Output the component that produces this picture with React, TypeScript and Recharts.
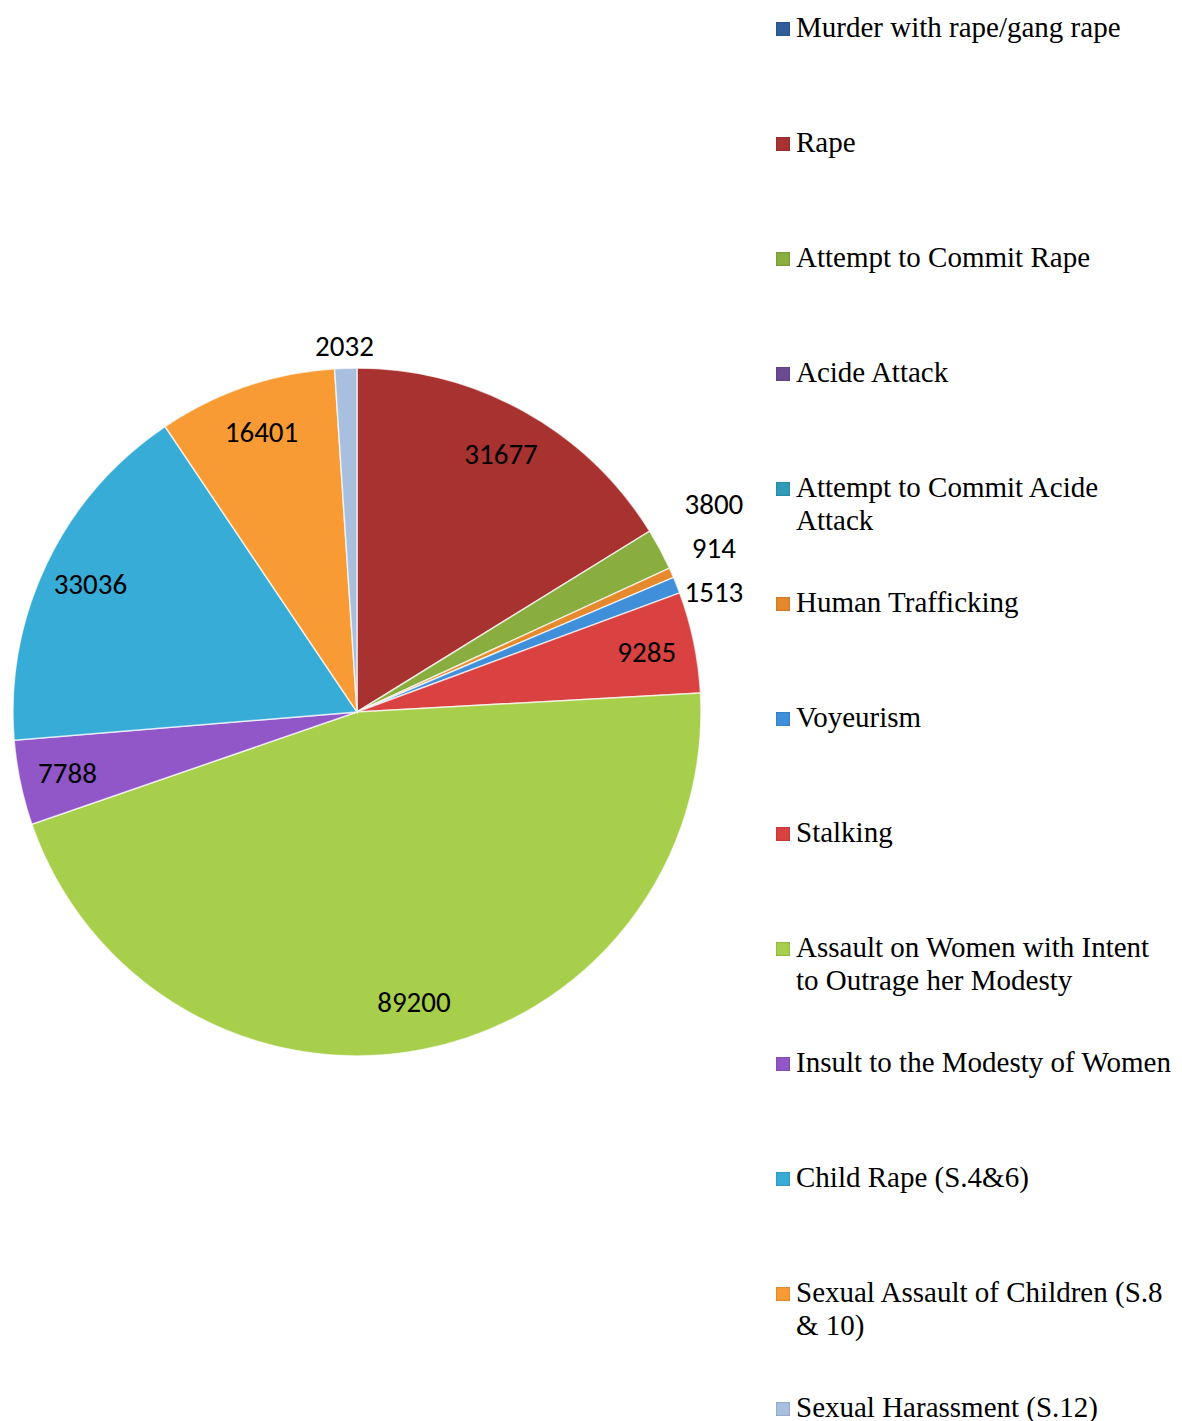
import React from 'react';
import { PieChart, Pie, Cell, Legend } from 'recharts';

// crime heads, in the order the slices run clockwise from 12 o'clock
const categories = [
  'Murder with rape/gang rape',
  'Rape',
  'Attempt to Commit Rape',
  'Acide Attack',
  'Attempt to Commit Acide Attack',
  'Human Trafficking',
  'Voyeurism',
  'Stalking',
  'Assault on Women with Intent to Outrage her Modesty',
  'Insult to the Modesty of Women',
  'Child Rape (S.4&6)',
  'Sexual Assault of Children (S.8 & 10)',
  'Sexual Harassment (S.12)',
];

const cases = [0, 31677, 3800, 0, 0, 914, 1513, 9285, 89200, 7788, 33036, 16401, 2032];

const colors = [
  '#2f5e99',
  '#a83230',
  '#89ad3e',
  '#6a4b93',
  '#2f9cb9',
  '#e6892c',
  '#3f8fdb',
  '#d94241',
  '#a7cf4b',
  '#9157c8',
  '#37acd6',
  '#f89b34',
  '#a9bfe0',
];

const data = categories.map((name, i) => ({ name, value: cases[i] }));

const RAD = Math.PI / 180;
const CX = 357;
const CY = 712;
const RADIUS = 344;
const LABEL_GAP = 44;
const GROUP_LIFT = 12;
const total = cases.reduce((a, b) => a + b, 0);

const labelBox = (v: number) => ({ w: String(v).length * 16, h: 28 });

// centre of an outside label, box just touching the rim
function outsideCenter(cx: number, cy: number, r: number, midAngle: number, v: number) {
  const c = Math.cos(-midAngle * RAD);
  const s = Math.sin(-midAngle * RAD);
  const R = r + 8;
  const { w, h } = labelBox(v);
  return { x: cx + R * c + (c * w) / 2, y: cy + R * s + (s * h) / 2, right: c >= 0 };
}

// small slices get their label outside; stacked ones are spread like Excel does
const isOutside = (v: number) => v > 0 && v / total < 0.03;

const labelShift: Record<number, { dx: number; dy: number }> = {};
{
  let acc = 0;
  const items: { i: number; x: number; y: number; right: boolean }[] = [];
  cases.forEach((v, i) => {
    const mid = 90 - ((acc + v / 2) / total) * 360;
    acc += v;
    if (isOutside(v)) {
      const p = outsideCenter(CX, CY, RADIUS, mid, v);
      items.push({ i, ...p });
    }
  });
  [true, false].forEach((side) => {
    const list = items.filter((it) => it.right === side).sort((a, b) => a.y - b.y);
    let groups = list.map((it) => [it]);
    const mean = (g: typeof list) => g.reduce((a, it) => a + it.y, 0) / g.length;
    let merged = true;
    while (merged) {
      merged = false;
      for (let k = 0; k < groups.length - 1; k++) {
        const a = groups[k];
        const b = groups[k + 1];
        const aBottom = mean(a) + ((a.length - 1) * LABEL_GAP) / 2;
        const bTop = mean(b) - ((b.length - 1) * LABEL_GAP) / 2;
        if (bTop - aBottom < LABEL_GAP) {
          groups.splice(k, 2, [...a, ...b]);
          merged = true;
          break;
        }
      }
    }
    groups.forEach((g) => {
      const m = mean(g) - (g.length > 1 ? GROUP_LIFT : 0);
      const xAlign = side ? Math.max(...g.map((it) => it.x)) : Math.min(...g.map((it) => it.x));
      g.forEach((it, k) => {
        const fy = m + (k - (g.length - 1) / 2) * LABEL_GAP;
        const fx = g.length > 1 ? xAlign : it.x;
        labelShift[it.i] = { dx: fx - it.x, dy: fy - it.y };
      });
    });
  });
}

const renderLabel = (props: any) => {
  const { cx, cy, midAngle, outerRadius, value, index } = props;
  if (!value) return null;
  let x: number;
  let y: number;
  if (isOutside(value)) {
    const p = outsideCenter(cx, cy, outerRadius, midAngle, value);
    const shift = labelShift[index] || { dx: 0, dy: 0 };
    x = p.x + shift.dx;
    y = p.y + shift.dy;
  } else {
    const r = outerRadius * 0.86;
    x = cx + r * Math.cos(-midAngle * RAD);
    y = cy + r * Math.sin(-midAngle * RAD);
  }
  return (
    <text
      key={`lbl-${index}`}
      x={x}
      y={y}
      textAnchor="middle"
      dominantBaseline="central"
      fill="#000"
      style={{ fontFamily: 'Carlito, Lato, sans-serif', fontSize: 29 }}
    >
      {value}
    </text>
  );
};

const renderLegend = () => (
  <div style={{ position: 'relative', width: 406, height: 1421 }}>
    {categories.map((name, i) => (
      <div
        key={name}
        style={{
          position: 'absolute',
          left: 0,
          top: 27 + i * 115 - 16.5,
          display: 'flex',
          alignItems: 'flex-start',
        }}
      >
        <span
          style={{
            display: 'inline-block',
            width: 14,
            height: 14,
            marginTop: 11,
            marginRight: 6,
            background: colors[i],
            boxShadow: 'inset 0 0 2px rgba(0,0,0,0.35)',
          }}
        />
        <span
          style={{
            display: 'inline-block',
            width: 382,
            fontFamily: '"Liberation Serif", "Times New Roman", serif',
            fontSize: 29,
            lineHeight: '33px',
            color: '#000',
          }}
        >
          {name}
        </span>
      </div>
    ))}
  </div>
);

export default function App() {
  return (
    <div style={{ position: 'absolute', left: 0, top: 0, width: 1182, height: 1421, background: '#fff' }}>
      <PieChart width={1182} height={1421} margin={{ top: 0, right: 0, bottom: 0, left: 0 }}>
        <Pie
          data={data}
          dataKey="value"
          nameKey="name"
          cx={CX}
          cy={CY}
          outerRadius={RADIUS}
          startAngle={90}
          endAngle={-270}
          stroke="#ffffff"
          strokeWidth={1.5}
          strokeOpacity={0.7}
          labelLine={false}
          label={renderLabel}
          isAnimationActive={false}
        >
          {data.map((d, i) => (
            <Cell key={d.name} fill={colors[i]} />
          ))}
        </Pie>
        <Legend
          layout="vertical"
          align="right"
          verticalAlign="top"
          content={renderLegend}
          wrapperStyle={{ position: 'absolute', left: 776, top: 0, width: 406, height: 1421 }}
        />
      </PieChart>
    </div>
  );
}
